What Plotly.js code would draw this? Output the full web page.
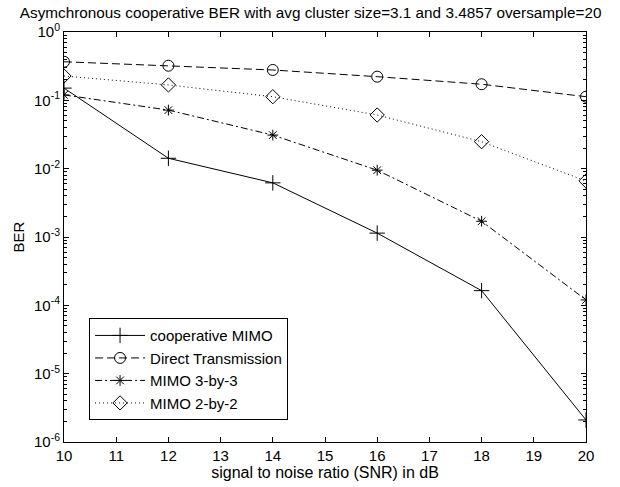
<!DOCTYPE html>
<html>
<head>
<meta charset="utf-8">
<script src="https://cdn.plot.ly/plotly-3.0.1.min.js"></script>
<style>html,body{margin:0;padding:0;background:#fff;}#chart{width:620px;height:487px;}</style>
</head>
<body>
<div id="chart"></div>
<script>
// SNR in dB
const snr = [10, 12, 14, 16, 18, 20];
// BER values
const coopMIMO   = [0.151, 0.0142, 0.0062, 0.00114, 0.000164, 0.0000021];
const directTx   = [0.367, 0.321, 0.278, 0.222, 0.172, 0.113];
const mimo3by3   = [0.120, 0.072, 0.031, 0.0095, 0.0017, 0.00012];
const mimo2by2   = [0.227, 0.168, 0.113, 0.061, 0.0248, 0.0066];
const seriesNames = ['cooperative MIMO', 'Direct Transmission', 'MIMO 3-by-3', 'MIMO 2-by-2'];

// axis ticks
const xTicks = [10, 11, 12, 13, 14, 15, 16, 17, 18, 19, 20];
const yTickExps = [-6, -5, -4, -3, -2, -1, 0];
const yTickVals = yTickExps.map(e => Math.pow(10, e));
const yTickText = yTickExps.map(e => '10<sup>' + (e < 0 ? '-' : '') + Math.abs(e) + '</sup>');
const yMinorVals = [];
yTickExps.slice(0, -1).forEach(e => { for (let m = 2; m <= 9; m++) yMinorVals.push(m * Math.pow(10, e)); });

const FONT = 'Liberation Sans, Arial, Helvetica, sans-serif';

function trace(y, name, symbol, dash, size) {
  return {
    x: snr, y: y, name: name, type: 'scatter', mode: 'lines+markers',
    line: {color: '#000', width: 1, dash: dash},
    marker: {symbol: symbol, size: size, color: '#000', line: {color: '#000', width: 1}}
  };
}

const data = [
  trace(coopMIMO, seriesNames[0], 'cross-thin-open', 'solid', 11),
  trace(directTx, seriesNames[1], 'circle-open', '8px,4px', 11),
  trace(mimo3by3, seriesNames[2], 'asterisk-open', '7px,3px,2px,3px', 9),
  trace(mimo2by2, seriesNames[3], 'diamond-open', '1px,3px', 11)
];

const layout = {
  width: 620, height: 487,
  margin: {l: 64, r: 34, t: 32, b: 45},
  paper_bgcolor: '#fff', plot_bgcolor: '#fff',
  font: {family: FONT, size: 15, color: '#000'},
  title: {
    text: 'Asymchronous cooperative BER with avg cluster size=3.1 and 3.4857 oversample=20',
    font: {family: FONT, size: 15.3, color: '#000'},
    xref: 'container', x: 0.032, xanchor: 'left',
    yref: 'container', y: 0.974, yanchor: 'middle'
  },
  xaxis: {
    range: [10, 20], tickmode: 'array', tickvals: xTicks,
    ticks: 'inside', ticklen: 5, tickcolor: '#000', tickwidth: 1,
    showline: true, linecolor: '#000', linewidth: 1, mirror: 'ticks',
    showgrid: false, zeroline: false,
    tickfont: {family: FONT, size: 15, color: '#000'},
    title: {text: 'signal to noise ratio (SNR) in dB', font: {family: FONT, size: 16, color: '#000'}, standoff: 3}
  },
  yaxis: {
    type: 'log', range: [-6, 0],
    tickmode: 'array', tickvals: yTickVals, ticktext: yTickText,
    ticks: 'inside', ticklen: 5, tickcolor: '#000', tickwidth: 1,
    minor: {tickmode: 'array', tickvals: yMinorVals, ticks: 'inside', ticklen: 3, tickcolor: '#000', tickwidth: 1, showgrid: false},
    showline: true, linecolor: '#000', linewidth: 1, mirror: 'ticks',
    showgrid: false, zeroline: false,
    tickfont: {family: FONT, size: 15, color: '#000'},
    title: {text: 'BER', font: {family: FONT, size: 15, color: '#000'}, standoff: 5}
  },
  showlegend: true,
  legend: {
    x: 0.048, y: 0.302, xanchor: 'left', yanchor: 'top',
    bgcolor: '#fff', bordercolor: '#000', borderwidth: 1,
    font: {family: FONT, size: 15, color: '#000'},
    tracegroupgap: 0, itemwidth: 50
  }
};

Plotly.newPlot('chart', data, layout, {displayModeBar: false, staticPlot: true});
</script>
</body>
</html>
